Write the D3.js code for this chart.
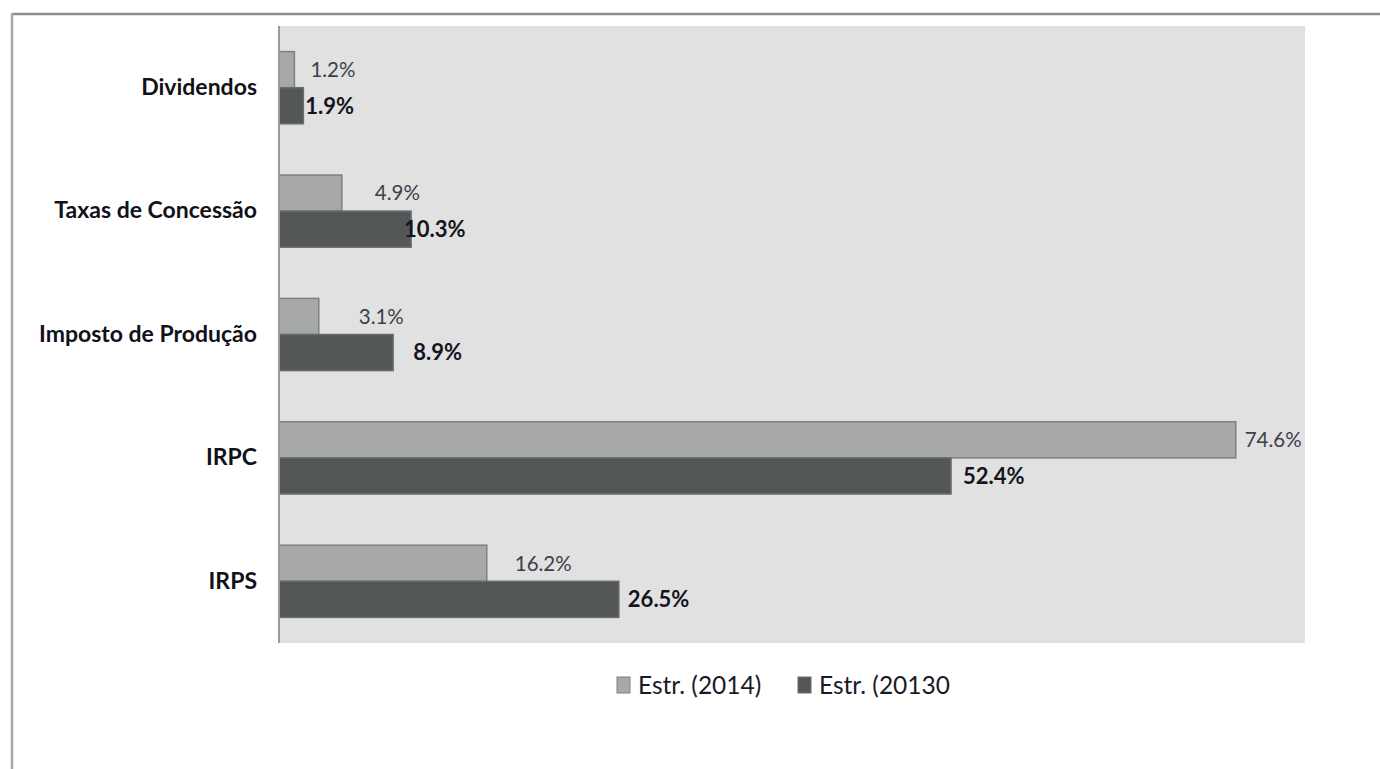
<!DOCTYPE html>
<html><head><meta charset="utf-8">
<script src="https://cdn.jsdelivr.net/npm/d3@7"></script>
<style>
html,body{margin:0;padding:0;background:#fff;}
svg{display:block;}
</style></head>
<body>
<script>
const categories = ["Dividendos","Taxas de Concessão","Imposto de Produção","IRPC","IRPS"];
const seriesNames = ["Estr. (2014)","Estr. (20130"];
const values2014 = [1.2, 4.9, 3.1, 74.6, 16.2];
const values2013 = [1.9, 10.3, 8.9, 52.4, 26.5];
const labels2014 = ["1.2%","4.9%","3.1%","74.6%","16.2%"];
const labels2013 = ["1.9%","10.3%","8.9%","52.4%","26.5%"];
// label offsets (layout, px) as placed in the original
const dx2014 = [16, 33, 40, 9, 28];
const dx2013 = [2, -7, 20, 12, 9];

(function(){
const W = 1380, H = 769;
const svg = d3.select("body").append("svg").attr("width", W).attr("height", H);

// outer frame
svg.append("line").attr("x1",12).attr("x2",W).attr("y1",14).attr("y2",14).attr("stroke","#8c8c8c").attr("stroke-width",2.5);
svg.append("line").attr("x1",12).attr("x2",12).attr("y1",13).attr("y2",H).attr("stroke","#a8a8a8").attr("stroke-width",2.5);

const pL = 279, pR = 1305, pT = 26, pB = 643;
svg.append("rect").attr("x",pL).attr("y",pT).attr("width",pR-pL).attr("height",pB-pT).attr("fill","#e1e1e1");

const x = d3.scaleLinear().domain([0,80]).range([pL,pR]);
const y = d3.scaleBand().domain(categories).range([pT,pB]).paddingInner(0.415).paddingOuter(0.2075);
const sub = d3.scaleBand().domain(seriesNames).range([0,y.bandwidth()]);

const colors = ["#a7a9a9","#545758"];
const strokes = ["#7e8080","#6a6c6d"];
const series = [values2014, values2013];
const labs = [labels2014, labels2013];
const dxs = [dx2014, dx2013];
const font = "Lato, 'Open Sans', sans-serif";

series.forEach((vals, si) => {
  const g = svg.append("g");
  g.selectAll("rect").data(vals).join("rect")
    .attr("x", x(0))
    .attr("y", (d,i) => y(categories[i]) + sub(seriesNames[si]))
    .attr("width", d => x(d) - x(0))
    .attr("height", sub.bandwidth())
    .attr("fill", colors[si])
    .attr("stroke", strokes[si]).attr("stroke-width", 1.5);
  g.selectAll("text").data(vals).join("text")
    .attr("x", (d,i) => x(d) + dxs[si][i])
    .attr("y", (d,i) => y(categories[i]) + sub(seriesNames[si]) + sub.bandwidth()/2)
    .attr("dy","0.36em")
    .attr("font-family", font)
    .attr("font-size", si === 1 ? 22 : 20.5)
    .attr("font-weight", si === 1 ? "bold" : "normal")
    .attr("fill", si === 1 ? "#14141e" : "#3c3f48")
    .text((d,i) => labs[si][i]);
});

// axis
const yAxis = d3.axisLeft(y).tickSize(0).tickPadding(22);
const ag = svg.append("g").attr("transform",`translate(${pL},0)`).call(yAxis);
ag.select(".domain").attr("stroke","#9a9a9a").attr("stroke-width",2).attr("d",`M0,${pT}V${pB}`);
ag.selectAll("text")
  .attr("font-family", font)
  .attr("font-size", 23).attr("font-weight","bold").attr("fill","#111118");

// legend
const legend = svg.append("g");
const legX = [617, 798];
seriesNames.forEach((n, i) => {
  legend.append("rect").attr("x", legX[i]).attr("y", 677).attr("width", 13).attr("height", 16)
    .attr("fill", colors[i]).attr("stroke", strokes[i]);
  legend.append("text").attr("x", legX[i] + 21).attr("y", 685).attr("dy","0.36em")
    .attr("font-family", font)
    .attr("font-size", 24.5).attr("fill","#1a1a28").text(n);
});
})();
</script>
</body></html>
